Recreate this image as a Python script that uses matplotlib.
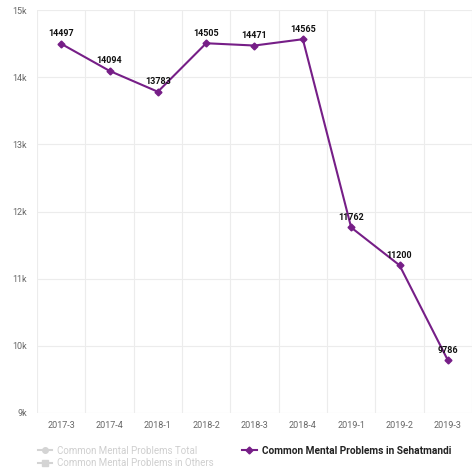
import matplotlib.pyplot as plt
from matplotlib.lines import Line2D

plt.rcParams['font.family'] = ['Roboto', 'DejaVu Sans']

quarters = ['2017-3', '2017-4', '2018-1', '2018-2', '2018-3', '2018-4', '2019-1', '2019-2', '2019-3']
sehatmandi = [14497, 14094, 13783, 14505, 14471, 14565, 11762, 11200, 9786]
y_ticks = [9000, 10000, 11000, 12000, 13000, 14000, 15000]
y_tick_labels = ['9k', '10k', '11k', '12k', '13k', '14k', '15k']
legend_labels = ['Common Mental Problems Total', 'Common Mental Problems in Others',
                 'Common Mental Problems in Sehatmandi']

purple = '#761e87'

fig = plt.figure(figsize=(4.72, 4.70), dpi=100)
ax = fig.add_axes([37 / 472, 1 - 413 / 470, 1 - 37 / 472, (413 - 10) / 470])

x = list(range(len(quarters)))
ax.plot(x, sehatmandi, color=purple, linewidth=1.5, marker='D', markersize=3.5, zorder=3)

for xi, v in zip(x, sehatmandi):
    ax.annotate(str(v), (xi, v), xytext=(0, 4), textcoords='offset points',
                ha='center', va='bottom', fontsize=6.5, fontweight='bold', color='#111111')

ax.set_xlim(-0.5, 8.42)
ax.set_ylim(9000, 15000)
ax.set_yticks(y_ticks)
ax.set_yticklabels(y_tick_labels)
ax.set_xticks(x)
ax.set_xticklabels(quarters)

# vertical grid lines sit between categories
ax.set_xticks([i + 0.5 for i in range(-1, len(quarters))], minor=True)
ax.grid(axis='x', which='minor', color='#ececec', linewidth=0.8)
ax.grid(axis='y', which='major', color='#ececec', linewidth=0.8)
ax.tick_params(axis='both', which='both', length=0, labelsize=6.5, labelcolor='#666666')
ax.tick_params(axis='x', pad=6)
ax.tick_params(axis='y', pad=7)
for s in ax.spines.values():
    s.set_visible(False)

handles = [
    Line2D([], [], color='#d4d4d4', marker='o', markersize=4, linewidth=1.5),
    Line2D([], [], color='#d4d4d4', marker='s', markersize=4, linewidth=1.5),
    Line2D([], [], color=purple, marker='D', markersize=3.5, linewidth=1.5),
]
leg = fig.legend(handles, legend_labels, ncol=2, loc='upper left',
                 bbox_to_anchor=(34 / 472, 1 - 442 / 470), frameon=False,
                 fontsize=7, handlelength=1.5, handletextpad=0.5,
                 columnspacing=2.9, labelspacing=0.25, borderaxespad=0)
texts = leg.get_texts()
texts[0].set_color('#cfcfcf')
texts[1].set_color('#cfcfcf')
texts[2].set_color('#222222')
texts[2].set_fontweight('bold')
texts[2].set_fontsize(7.3)

fig.savefig('out.png', dpi=100)
